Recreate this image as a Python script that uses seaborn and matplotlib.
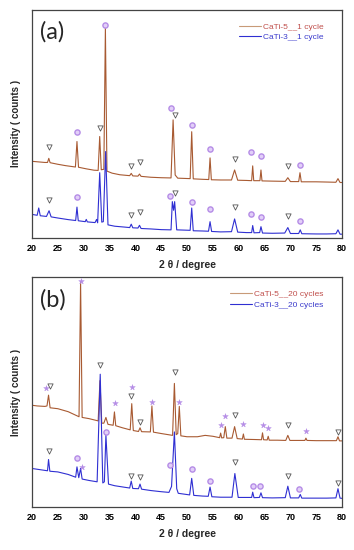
import numpy as np
import pandas as pd
import matplotlib
matplotlib.use("Agg")
import matplotlib.pyplot as plt
import seaborn as sns
from matplotlib.ticker import MultipleLocator
from matplotlib.lines import Line2D

# Difratogramas (2theta, intensidade em unidades do eixo 0-100)
# painel (a) - 1 ciclo
a5_x = [20.0, 21.0, 22.5, 23.0, 23.25, 23.5, 25.0, 26.5, 28.4, 28.7, 29.0, 30.5, 32.0, 32.8, 33.1, 33.4,
        33.9, 34.2, 34.5, 35.5, 37.0, 38.9, 39.2, 39.5, 40.5, 40.8, 41.1, 43.0, 45.0, 46.9, 47.3, 47.7,
        48.2, 50.6, 50.9, 51.2, 53.0, 54.2, 54.45, 54.7, 56.5, 58.6, 59.2, 59.8, 61.5, 62.5, 62.7, 62.9,
        64.1, 64.3, 64.5, 66.5, 69.0, 69.5, 70.0, 71.6, 71.85, 72.1, 75.0, 77.0, 78.8, 79.2, 79.6, 80.0]
a5_y = [33.5, 33.3, 33.0, 33.0, 34.8, 32.9, 32.2, 31.6, 31.0, 42.2, 30.9, 30.2, 29.6, 29.5, 44.4, 29.8,
        30.0, 92.0, 29.2, 28.3, 27.6, 27.2, 28.2, 27.1, 27.0, 27.9, 26.9, 26.5, 26.3, 26.2, 51.7, 27.5,
        26.1, 25.9, 46.5, 25.8, 25.6, 25.5, 35.0, 25.4, 25.3, 25.3, 29.7, 25.2, 25.1, 25.0, 31.5, 25.0,
        25.0, 29.7, 24.9, 24.8, 24.7, 26.3, 24.6, 24.6, 28.5, 24.5, 24.5, 24.4, 24.3, 25.9, 24.2, 24.2]

a3_x = [20.0, 21.0, 21.3, 21.6, 22.8, 23.3, 23.7, 25.0, 27.0, 28.45, 28.7, 28.95, 30.3, 30.5, 30.7, 32.2,
        32.5, 32.7, 33.1, 33.5, 33.8, 34.25, 34.7, 36.0, 38.0, 38.9, 39.2, 39.5, 40.5, 40.8, 41.1, 43.0,
        45.0, 46.9, 47.15, 47.4, 47.6, 48.0, 50.6, 50.9, 51.2, 53.0, 54.15, 54.45, 54.75, 56.5, 58.6, 59.2,
        59.8, 61.5, 62.5, 62.7, 62.95, 64.05, 64.3, 64.6, 66.5, 68.9, 69.5, 70.0, 71.6, 71.9, 72.2, 75.0,
        77.0, 78.8, 79.2, 79.6, 80.0]
a3_y = [10.2, 9.8, 13.0, 9.6, 9.3, 11.8, 9.1, 8.6, 7.9, 7.5, 13.4, 7.4, 7.0, 8.0, 6.9, 6.6,
        8.0, 6.5, 28.5, 6.8, 7.0, 37.8, 5.6, 5.0, 4.6, 4.4, 5.9, 4.3, 4.2, 5.4, 4.0, 3.8,
        3.5, 3.4, 15.8, 12.0, 15.8, 3.4, 3.2, 13.0, 3.0, 2.9, 2.8, 7.0, 2.7, 2.5, 2.6, 8.2,
        2.4, 2.2, 2.2, 5.3, 2.1, 2.2, 4.8, 2.0, 1.9, 2.0, 4.4, 1.8, 1.8, 3.4, 1.7, 1.6,
        1.6, 1.7, 3.4, 1.5, 1.5]

# painel (b) - 20 ciclos
b5_x = [20.0, 21.0, 22.5, 22.9, 23.2, 23.5, 25.0, 27.0, 29.1, 29.4, 29.7, 31.0, 32.8, 33.15, 33.5, 33.9,
        34.3, 34.7, 35.7, 35.95, 36.2, 37.5, 39.0, 39.3, 39.6, 40.6, 40.9, 41.2, 42.9, 43.2, 43.5, 45.0,
        47.2, 47.55, 47.9, 48.2, 48.5, 48.8, 50.0, 52.0, 53.5, 55.0, 56.3, 56.5, 56.7, 57.1, 57.4, 57.7,
        58.7, 59.2, 59.7, 60.7, 60.9, 61.1, 63.0, 64.4, 64.6, 64.8, 65.5, 65.7, 65.9, 67.5, 69.1, 69.5,
        69.9, 72.8, 73.0, 73.2, 75.0, 77.0, 78.9, 79.2, 79.5, 80.0]
b5_y = [44.3, 44.0, 43.8, 44.0, 48.7, 43.2, 42.8, 41.5, 39.3, 98.0, 39.0, 38.5, 37.5, 55.0, 36.5, 36.5,
        39.0, 36.0, 35.6, 41.4, 35.4, 34.5, 33.6, 45.0, 33.3, 32.9, 34.5, 32.8, 32.7, 44.0, 32.6, 32.0,
        31.2, 53.8, 31.5, 32.0, 43.8, 31.0, 30.6, 30.6, 31.2, 30.8, 30.2, 32.2, 30.1, 30.2, 35.0, 30.0,
        30.0, 35.0, 29.8, 29.6, 31.8, 29.5, 29.4, 29.3, 32.3, 29.3, 29.2, 30.8, 29.1, 29.1, 29.0, 31.2,
        29.0, 29.0, 30.0, 29.0, 28.9, 28.9, 28.9, 30.6, 28.8, 28.8]

b3_x = [20.0, 21.5, 23.0, 23.2, 23.45, 25.0, 27.0, 28.45, 28.7, 29.05, 29.4, 29.7, 31.0, 32.6, 33.2, 33.7,
        34.0, 34.3, 34.8, 36.0, 38.0, 38.9, 39.2, 39.5, 40.6, 40.9, 41.2, 43.0, 45.0, 46.5, 47.0, 47.55,
        48.0, 48.3, 50.5, 50.9, 51.3, 53.0, 54.1, 54.45, 54.8, 56.5, 58.7, 59.25, 59.9, 61.5, 62.5, 62.7,
        62.95, 64.0, 64.3, 64.6, 66.5, 69.0, 69.5, 70.0, 71.6, 71.9, 72.2, 75.0, 77.0, 78.8, 79.2, 79.6,
        80.0]
b3_y = [16.8, 16.3, 15.8, 20.7, 15.6, 15.3, 14.2, 13.0, 17.5, 12.8, 16.8, 12.2, 11.6, 11.0, 57.8, 10.5,
        11.0, 31.3, 10.0, 9.3, 8.6, 8.3, 11.3, 8.1, 8.0, 10.0, 7.8, 7.2, 6.7, 6.4, 9.0, 32.7,
        8.0, 6.0, 5.3, 12.5, 5.1, 4.8, 4.7, 8.7, 4.5, 4.3, 4.3, 14.6, 4.2, 4.2, 4.2, 6.5,
        4.1, 4.2, 6.2, 4.1, 4.0, 4.1, 9.1, 4.0, 4.0, 5.5, 3.9, 3.9, 3.9, 4.0, 8.0, 3.9,
        3.8]

# marcadores de fase
a_circ_x = [28.7, 34.2, 46.8, 50.9, 54.5, 62.3, 64.3, 71.9, 28.7, 46.7, 50.9, 54.4, 62.3, 64.3, 71.9]
a_circ_y = [46.5, 93.4, 57.0, 49.5, 39.0, 37.5, 35.9, 32.0, 18.0, 18.2, 15.8, 12.5, 10.5, 9.1, 7.5]
a_tri_x = [23.3, 33.1, 39.2, 40.8, 47.6, 59.2, 69.5, 23.3, 39.2, 40.8, 47.6, 59.2, 69.5]
a_tri_y = [39.7, 48.3, 31.4, 33.4, 54.0, 34.6, 31.5, 16.3, 10.0, 11.3, 19.6, 13.5, 9.7]

b_circ_x = [28.7, 34.3, 46.7, 50.9, 54.5, 62.8, 64.1, 71.7]
b_circ_y = [21.4, 32.5, 18.3, 16.4, 11.3, 9.3, 9.3, 7.7]
b_star_x = [22.8, 29.4, 36.0, 39.3, 43.2, 48.5, 56.5, 57.3, 60.9, 64.6, 65.7, 73.0, 29.6]
b_star_y = [51.6, 98.3, 45.3, 52.3, 45.8, 45.8, 35.6, 39.6, 36.0, 35.6, 34.2, 33.2, 17.5]
b_tri_x = [23.4, 33.2, 39.2, 40.9, 47.6, 59.2, 69.5, 79.2, 23.3, 39.2, 40.9, 59.2, 69.5, 79.2]
b_tri_y = [52.8, 61.7, 48.3, 37.1, 58.6, 40.0, 35.6, 32.5, 24.5, 13.5, 12.9, 19.7, 13.5, 10.3]

labels_a = ['CaTi-5__1 cycle', 'CaTi-3__1 cycle']
labels_b = ['CaTi-5__20 cycles', 'CaTi-3__20 cycles']

cor5 = '#a85a32'
cor3 = '#2f2fd2'
txt5 = '#c0504d'
txt3 = '#3c3ccc'

sns.set_style('white')
plt.rcParams['font.family'] = ['Liberation Sans', 'DejaVu Sans']

fig = plt.figure(figsize=(3.54, 5.5), dpi=100)
ax1 = fig.add_axes([0.0904, 0.568, 0.876, 0.414])
ax2 = fig.add_axes([0.0904, 0.078, 0.876, 0.418])


def painel(ax, x5, y5, x3, y3, labels, letra):
    sns.lineplot(x=x5, y=y5, ax=ax, color=cor5, lw=0.8, estimator=None, sort=False)
    sns.lineplot(x=x3, y=y3, ax=ax, color=cor3, lw=0.8, estimator=None, sort=False)
    ax.set_xlim(20, 80)
    ax.set_ylim(0, 100)
    ax.set_yticks([])
    ax.xaxis.set_major_locator(MultipleLocator(5))
    ax.xaxis.set_minor_locator(MultipleLocator(1))
    ax.tick_params(axis='x', which='major', direction='out', length=3, width=0.8,
                   labelsize=6.5, pad=1.5, colors='#333333')
    ax.tick_params(axis='x', which='minor', direction='out', length=1.5, width=0.6, colors='#333333')
    for lab in ax.get_xticklabels():
        lab.set_fontweight('bold')
        lab.set_color('black')
    for s in ax.spines.values():
        s.set_color('#444444')
        s.set_linewidth(0.9)
    ax.set_xlabel('2 θ / degree', fontsize=7.5, fontweight='bold', labelpad=5)
    ax.set_ylabel('Intensity ( counts )', fontsize=7, fontweight='bold')
    ax.yaxis.set_label_coords(-0.035, 0.5)
    ax.text(0.026, 0.95, letra, transform=ax.transAxes, ha='left', va='top',
            fontsize=17, family=['Lato', 'DejaVu Sans'])
    handles = [Line2D([], [], color='#c89a78', lw=0.8), Line2D([], [], color=cor3, lw=0.8)]
    ax.legend(handles, labels, loc='upper right', bbox_to_anchor=(0.965, 0.975), frameon=False,
              fontsize=6, handlelength=2.6, handletextpad=0.3, labelspacing=0.3,
              labelcolor=[txt5, txt3])


painel(ax1, a5_x, a5_y, a3_x, a3_y, labels_a, '(a)')
painel(ax2, b5_x, b5_y, b3_x, b3_y, labels_b, '(b)')

circ = dict(marker='o', s=14, color='#e2cff8', edgecolor='#b58ce6', linewidth=1.0, zorder=5)
tri = dict(marker='v', s=14, color='white', edgecolor='#555555', linewidth=0.6, zorder=5)
star = dict(marker='*', s=18, color='#b58ce6', edgecolor='#b58ce6', linewidth=0.3, zorder=5)

sns.scatterplot(x=a_circ_x, y=a_circ_y, ax=ax1, **circ)
sns.scatterplot(x=a_tri_x, y=a_tri_y, ax=ax1, **tri)
sns.scatterplot(x=b_circ_x, y=b_circ_y, ax=ax2, **circ)
sns.scatterplot(x=b_star_x, y=b_star_y, ax=ax2, **star)
sns.scatterplot(x=b_tri_x, y=b_tri_y, ax=ax2, **tri)

fig.savefig('out.png', dpi=100)
